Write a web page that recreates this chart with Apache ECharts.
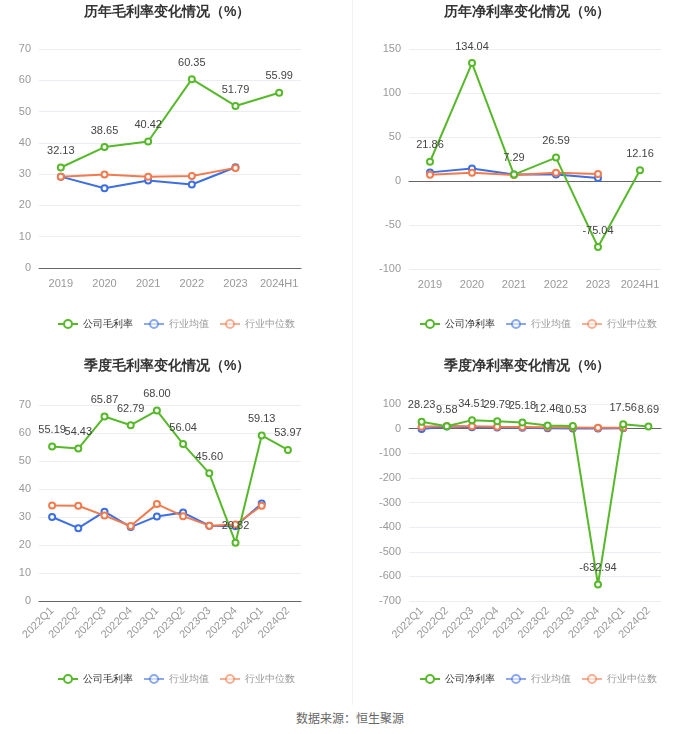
<!DOCTYPE html>
<html><head><meta charset="utf-8">
<script src="https://cdn.jsdelivr.net/npm/echarts@6/dist/echarts.min.js"></script>
<style>
html,body{margin:0;padding:0;background:#fff;width:700px;height:734px;overflow:hidden;font-family:"Noto Sans CJK SC","Noto Sans",sans-serif;}
.c{position:absolute;width:350px;height:350px;}
#div{position:absolute;left:352px;top:0;width:1px;height:705px;background:#f2f2f2;}
#foot{position:absolute;left:0;width:700px;top:709px;text-align:center;font-size:12px;color:#666;}
</style></head>
<body>
<div class="c" id="c1" style="left:0;top:0"></div>
<div class="c" id="c2" style="left:350px;top:0"></div>
<div class="c" id="c3" style="left:0;top:350px"></div>
<div class="c" id="c4" style="left:350px;top:350px"></div>
<div id="div"></div>
<div id="foot">数据来源：恒生聚源</div>
<script>
const yearCats = ['2019','2020','2021','2022','2023','2024H1'];
const quarterCats = ['2022Q1','2022Q2','2022Q3','2022Q4','2023Q1','2023Q2','2023Q3','2023Q4','2024Q1','2024Q2'];

const yearGross = [32.13, 38.65, 40.42, 60.35, 51.79, 55.99];
const yearGrossMean = [29.2, 25.5, 28.0, 26.7, 32.2];
const yearGrossMedian = [29.2, 29.9, 29.2, 29.4, 32.0];

const yearNet = [21.86, 134.04, 7.29, 26.59, -75.04, 12.16];
const yearNetMean = [9.8, 14.3, 7.5, 7.5, 3.4];
const yearNetMedian = [7.2, 9.4, 6.8, 9.4, 8.0];

const qGross = [55.19, 54.43, 65.87, 62.79, 68.00, 56.04, 45.60, 20.82, 59.13, 53.97];
const qGrossMean = [30.0, 26.0, 31.9, 26.4, 30.2, 31.6, 26.9, 26.7, 34.8];
const qGrossMedian = [34.1, 34.0, 30.5, 26.8, 34.6, 30.3, 26.9, 27.3, 34.0];

const qNet = [28.23, 9.58, 34.51, 29.79, 25.18, 12.46, 10.53, -632.94, 17.56, 8.69];
const qNetMean = [-2, 9, 6, 5, 4, 2, 1, 1, 2];
const qNetMedian = [8, 11, 10, 8, 7, 6, 5, 4, 4];

const GREEN = '#57b92a', BLUE = '#3d6fe0', ORANGE = '#f07b4f';

function build(el, cfg){
  const ch = echarts.init(document.getElementById(el), null, {renderer:'canvas'});
  const mk = (name, data, color, label) => ({
    name, type:'line', data, symbol:'emptyCircle', symbolSize:6,
    lineStyle:{width:2, color}, itemStyle:{color, borderWidth:1.5},
    label: label ? {show:true, position:'top', color:'#444', fontSize:11, distance:7,
                    formatter: p => p.value.toFixed(2)} : {show:false},
    z: label ? 3 : 2, animation:false
  });
  ch.setOption({
    animation:false,
    title:{text:cfg.title, left:cfg.titleLeft, top:cfg.titleTop,
      textStyle:{fontSize:14, fontWeight:'bold', color:'#333'}},
    legend:{bottom:cfg.legendBottom, left:cfg.legendLeft, itemWidth:20, itemHeight:10, itemGap:10,
      textStyle:{fontSize:10, color:'#333'},
      data:[
        {name:cfg.main},
        {name:'行业均值', textStyle:{color:'#999'}, itemStyle:{opacity:0.6}, lineStyle:{opacity:0.6}},
        {name:'行业中位数', textStyle:{color:'#999'}, itemStyle:{opacity:0.6}, lineStyle:{opacity:0.6}}
      ]},
    grid:cfg.grid,
    xAxis:{type:'category', data:cfg.cats, boundaryGap:true,
      axisLine:{lineStyle:{color:'#666'}}, axisTick:{alignWithLabel:true, lineStyle:{color:'#666'}},
      axisLabel:{color:'#999', fontSize:11, rotate:cfg.rotate||0, interval:0, margin:cfg.rotate?8:10}},
    yAxis:{type:'value', min:cfg.min, max:cfg.max, interval:cfg.interval,
      axisLine:{show:false}, axisTick:{show:false},
      axisLabel:{color:'#999', fontSize:11},
      splitLine:{lineStyle:{color:'#ebedf2'}}},
    series:[
      mk(cfg.main, cfg.a, GREEN, true),
      mk('行业均值', cfg.b, BLUE, false),
      mk('行业中位数', cfg.c, ORANGE, false)
    ]
  });
}

build('c1', {title:'历年毛利率变化情况（%）', titleTop:0, titleLeft:79, legendBottom:16, legendLeft:52, main:'公司毛利率',
  cats:yearCats, a:yearGross, b:yearGrossMean, c:yearGrossMedian,
  grid:{left:39, right:49, top:49, bottom:82}, min:0, max:70, interval:10});
build('c2', {title:'历年净利率变化情况（%）', titleTop:0, titleLeft:89, legendBottom:16, legendLeft:64, main:'公司净利率',
  cats:yearCats, a:yearNet, b:yearNetMean, c:yearNetMedian,
  grid:{left:59, right:39, top:49, bottom:81}, min:-100, max:150, interval:50});
build('c3', {title:'季度毛利率变化情况（%）', titleTop:4, titleLeft:79, legendBottom:11, legendLeft:52, main:'公司毛利率',
  cats:quarterCats, a:qGross, b:qGrossMean, c:qGrossMedian, rotate:45,
  grid:{left:39, right:49, top:55, bottom:99}, min:0, max:70, interval:10});
build('c4', {title:'季度净利率变化情况（%）', titleTop:4, titleLeft:89, legendBottom:11, legendLeft:64, main:'公司净利率',
  cats:quarterCats, a:qNet, b:qNetMean, c:qNetMedian, rotate:45,
  grid:{left:59, right:39, top:54, bottom:99}, min:-700, max:100, interval:100});
</script>
</body></html>
